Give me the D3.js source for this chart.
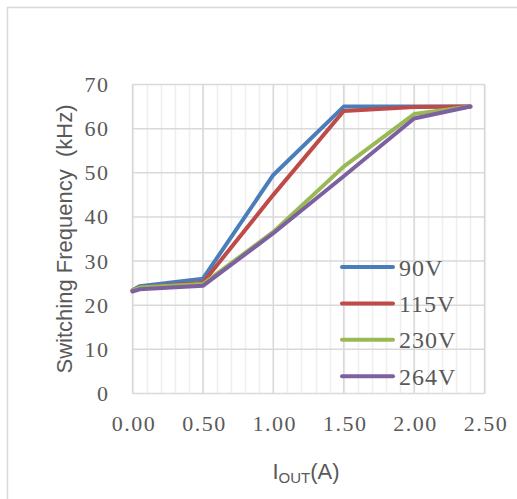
<!DOCTYPE html>
<html><head><meta charset="utf-8">
<script src="https://cdn.jsdelivr.net/npm/d3@7"></script>
<style>body{margin:0;background:#fff}svg{display:block}</style>
</head><body>
<script>
const xValues = [0, 0.05, 0.5, 1.0, 1.5, 2.0, 2.4];
const seriesNames = ["90V", "115V", "230V", "264V"];
const v90  = [23.4, 24.3, 26.0, 49.5, 65.0, 65.0, 65.0];
const v115 = [23.3, 24.0, 25.1, 45.0, 64.0, 64.9, 65.0];
const v230 = [23.3, 24.0, 24.8, 36.6, 51.4, 63.3, 65.0];
const v264 = [23.1, 23.6, 24.4, 36.3, 49.2, 62.3, 65.0];
const xTicks = [0, 0.5, 1.0, 1.5, 2.0, 2.5];
const yTicks = [0, 10, 20, 30, 40, 50, 60, 70];
const colors = ["#4A7EBB", "#BE4B48", "#98B954", "#7D60A0"];

const W = 517, H = 499;
const svg = d3.select("body").append("svg").attr("width", W).attr("height", H);
svg.append("rect").attr("width", W).attr("height", H).attr("fill", "#fff");
svg.append("path").attr("d", `M7.5,${H} V7.5 H${W}`).attr("fill", "none").attr("stroke", "#d9d9d9").attr("stroke-width", 1.5);

const x = d3.scaleLinear().domain([0, 2.5]).range([132.5, 484.5]);
const y = d3.scaleLinear().domain([0, 70]).range([393.5, 84.5]);

const minor = d3.range(0, 2.5001, 0.1);
svg.append("g").selectAll("line").data(minor).join("line")
  .attr("x1", d => Math.round(x(d)) + 0.5).attr("x2", d => Math.round(x(d)) + 0.5)
  .attr("y1", y(70)).attr("y2", y(0)).attr("stroke", "#eeeeee").attr("stroke-width", 1.5);
svg.append("g").selectAll("line").data(xTicks).join("line")
  .attr("x1", d => x(d)).attr("x2", d => x(d))
  .attr("y1", y(70)).attr("y2", y(0)).attr("stroke", "#d9d9d9").attr("stroke-width", 1.5);
svg.append("g").selectAll("line").data(yTicks).join("line")
  .attr("x1", x(0)).attr("x2", x(2.5))
  .attr("y1", d => y(d)).attr("y2", d => y(d)).attr("stroke", "#d9d9d9").attr("stroke-width", 1.5);

const tickFont = "'Liberation Serif','DejaVu Serif',serif";
const yAxis = svg.append("g").attr("transform", `translate(${x(0)},0)`)
  .call(d3.axisLeft(y).tickValues(yTicks).tickSize(0).tickPadding(23).tickFormat(d3.format("d")));
yAxis.select(".domain").remove();
yAxis.selectAll("text").attr("font-family", tickFont).attr("font-size", 22).attr("fill", "#595959")
  .attr("letter-spacing", 1.5);

const xAxis = svg.append("g").attr("transform", `translate(0,${y(0)})`)
  .call(d3.axisBottom(x).tickValues(xTicks).tickSize(0).tickPadding(22).tickFormat(d3.format(".2f")));
xAxis.select(".domain").remove();
xAxis.selectAll("text").attr("font-family", tickFont).attr("font-size", 22).attr("fill", "#595959")
  .attr("letter-spacing", 1.5).attr("dx", 1);

const allSeries = [v90, v115, v230, v264];
const line = d3.line().x((d, i) => x(xValues[i])).y(d => y(d));
allSeries.forEach((s, k) => {
  svg.append("path").datum(s).attr("d", line).attr("fill", "none")
    .attr("stroke", colors[k]).attr("stroke-width", 4).attr("stroke-linejoin", "round").attr("stroke-linecap", "round");
});

const lg = svg.append("g");
seriesNames.forEach((n, k) => {
  const ly = 267 + k * 36.4;
  lg.append("line").attr("x1", 342).attr("x2", 393).attr("y1", ly).attr("y2", ly)
    .attr("stroke", colors[k]).attr("stroke-width", 4).attr("stroke-linecap", "round");
  lg.append("text").attr("x", 399).attr("y", ly + 8.5).text(n)
    .attr("font-family", tickFont).attr("font-size", 24).attr("fill", "#595959").attr("letter-spacing", 1);
});

const sans = "'Liberation Sans',Arial,sans-serif";
svg.append("text").attr("transform", "translate(72,239) rotate(-90)").attr("text-anchor", "middle")
  .attr("font-family", sans).attr("font-size", 22).attr("fill", "#595959")
  .attr("xml:space", "preserve").style("white-space", "pre").text("Switching Frequency  (kHz)");
const xt = svg.append("text").attr("x", 306).attr("y", 479).attr("text-anchor", "middle")
  .attr("font-family", sans).attr("font-size", 22).attr("fill", "#595959");
xt.append("tspan").text("I");
xt.append("tspan").attr("font-size", 15).attr("dy", 4).text("OUT");
xt.append("tspan").attr("dy", -4).text("(A)");
</script>
</body></html>
